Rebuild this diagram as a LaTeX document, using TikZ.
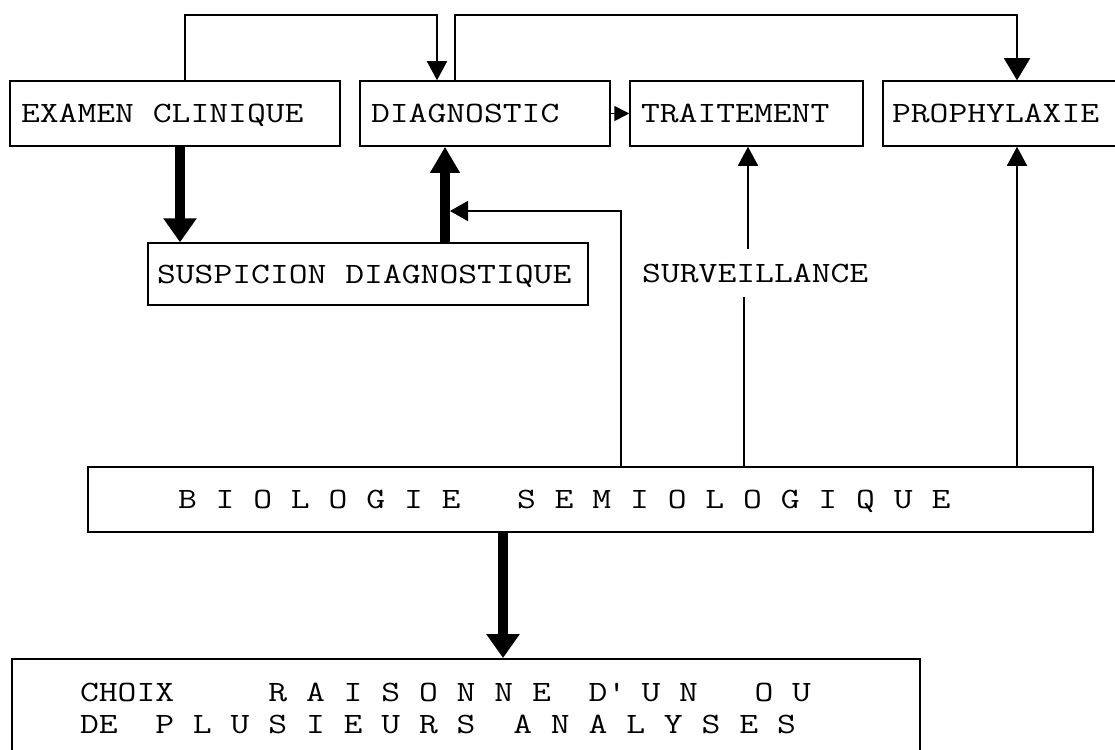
\documentclass[tikz,border=0pt]{standalone}
\usepackage{fontspec}
\newfontfamily\tw{Latin Modern Mono}[FakeStretch=1.24]
\newcommand\twfont{\tw\fontsize{29.5}{32}\selectfont}
\newcommand\s{\hphantom{X}}
\usetikzlibrary{arrows.meta}
\begin{document}
\begin{tikzpicture}[x=1pt,y=-1pt,
  box/.style={draw, line width=1.5pt, font=\twfont, inner ysep=0pt, align=left},
  one/.style={text height=18pt, text depth=0pt},
  lbl/.style={font=\twfont, text height=18pt, text depth=0pt, inner xsep=0pt, inner ysep=15pt},
  conn/.style={line width=1.5pt},
  arr/.style={-{Triangle[width=20pt,length=19pt]}},
  fat/.style={line width=10pt, -{Triangle[width=32pt,length=24pt]}}]
\useasboundingbox (0,0) rectangle (1115,749);
\clip (0,0) rectangle (1115,749);
\fill[white] (0,0) rectangle (1115,749);

% boxes
\node[box, one, inner xsep=11pt, text width=308pt, minimum height=65pt] (exam) at (175,113.5) {EXAMEN\s CLINIQUE};
\node[box, one, inner xsep=11pt, text width=228pt, minimum height=65pt] (diag) at (485,113.5) {DIAGNOSTIC};
\node[box, one, inner xsep=11pt, text width=211pt, minimum height=65pt] (trait) at (746.5,113.5) {TRAITEMENT};
\node[box, one, inner xsep=9pt, text width=242pt, minimum height=65pt] (proph) at (1013,113.5) {PROPHYLAXIE};
\node[box, one, inner xsep=9pt, text width=422pt, minimum height=62pt] (susp) at (368,274) {SUSPICION\s DIAGNOSTIQUE};
\node[box, one, inner xsep=90pt, text width=825pt, minimum height=65pt] (bio) at (590.5,499.5)
  {B\s I\s O\s L\s O\s G\s I\s E\s\s\s S\s E\s M\s I\s O\s L\s O\s G\s I\s Q\s U\s E};
\node[box, inner xsep=68pt, inner ysep=24pt, text width=772pt, anchor=north] (choix) at (466,658)
  {CHOIX\s\s\s\s\s R\s A\s I\s S\s O\s N\s N\s E\s\s D\textquotesingle\s U\s N\s\s\s O\s U\\
   DE\s\s P\s L\s U\s S\s I\s E\s U\s R\s S\s\s A\s N\s A\s L\s Y\s S\s E\s S};
\node[lbl, anchor=base west] (surv) at (642,282) {SURVEILLANCE};

% helper coordinates
\coordinate (t1) at (185,15);
\coordinate (t2) at (437,15);
\coordinate (t3) at (455,15);
\coordinate (t4) at (1017,15);
\coordinate (k1) at (180,0);
\coordinate (k2) at (445,0);
\coordinate (k3) at (503,0);
\coordinate (b1) at (621,211);
\coordinate (b1e) at (450,211);
\coordinate (s1) at (744,0);
\coordinate (s2) at (748,0);
\coordinate (p1) at (1017,0);

% connectors
\draw[conn, arr] (exam.north -| t1) -- (t1) -- (t2) -- (diag.north -| t2);
\draw[conn, -{Triangle[width=26pt,length=22pt]}] (diag.north -| t3) -- (t3) -- (t4) -- (proph.north -| t4);
\draw[conn, -{Triangle[width=15pt,length=15pt]}] (diag.east) -- (trait.west);
\draw[fat] (exam.south -| k1) -- (susp.north -| k1);
\draw[line width=10pt, -{Triangle[width=28pt,length=26pt]}] (susp.north -| k2) -- (diag.south -| k2);
\draw[conn, -{Triangle[width=20pt,length=18pt]}] (bio.north -| b1) -- (b1) -- (b1e);
\draw[conn] (bio.north -| s1) -- (surv.south -| s1);
\draw[conn, arr] (surv.north -| s2) -- (trait.south -| s2);
\draw[conn, arr] (bio.north -| p1) -- (proph.south -| p1);
\draw[fat] (bio.south -| k3) -- (choix.north -| k3);
\end{tikzpicture}
\end{document}
